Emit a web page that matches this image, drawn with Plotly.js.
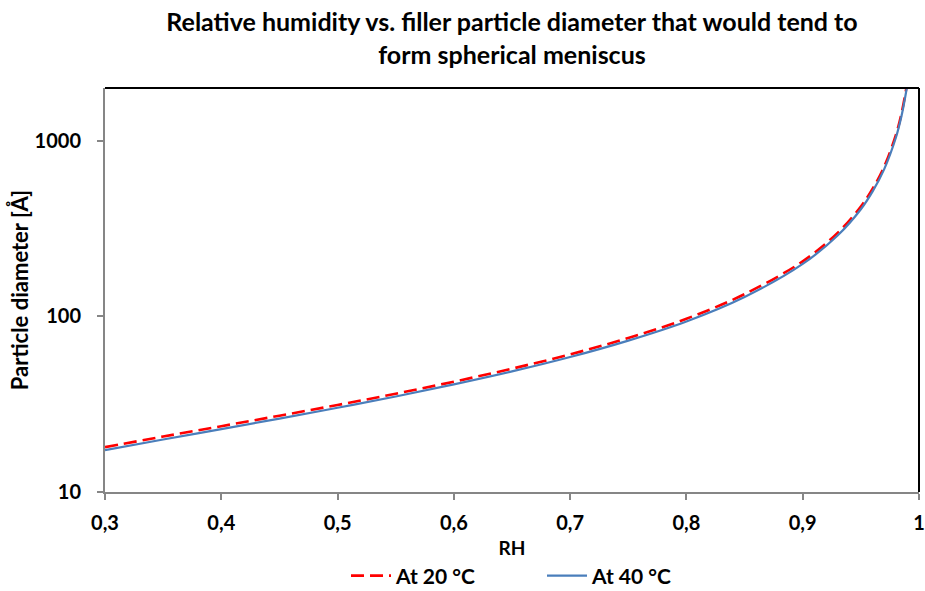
<!DOCTYPE html>
<html><head><meta charset="utf-8">
<script src="https://cdn.plot.ly/plotly-3.0.1.min.js"></script>
<style>html,body{margin:0;padding:0;background:#fff}#chart{width:925px;height:591px}</style>
</head><body><div id="chart"></div>
<script>
const rh = [0.30,0.35,0.40,0.45,0.50,0.55,0.60,0.65,0.70,0.75,0.80,0.85,0.90,0.93,0.95,0.96,0.97,0.98,0.985,0.99];
const d20 = [18.0,20.7,23.7,27.2,31.3,36.3,42.5,50.4,60.8,75.4,97,134,206,299,423,532,712,1074,1436,2160];
const d40 = [17.3,19.9,22.8,26.2,30.2,35.0,41.0,48.6,58.7,72.8,93.6,129,199,289,408,514,688,1038,1390,2090];
const xTicks = [0.3,0.4,0.5,0.6,0.7,0.8,0.9,1];
const xTickText = ['0,3','0,4','0,5','0,6','0,7','0,8','0,9','1'];
const yTicks = [10,100,1000];
const yTickText = ['10','100','1000'];
const seriesNames = ['At 20 °C','At 40 °C'];

const F = 'Lato, "Open Sans", sans-serif';
const b = s => '<b>' + s + '</b>';
const traces = [
  {x: rh, y: d20, name: b(seriesNames[0]), mode: 'lines', line: {color: '#ff0000', width: 2.6, dash: '13px,6px', shape: 'spline'}},
  {x: rh, y: d40, name: b(seriesNames[1]), mode: 'lines', line: {color: '#4a7ebb', width: 2.2, shape: 'spline'}}
];
const layout = {
  width: 925, height: 591,
  margin: {l: 105, r: 6, t: 88, b: 99, autoexpand: false},
  paper_bgcolor: '#fff', plot_bgcolor: '#fff',
  font: {family: F, color: '#000'},
  title: {text: b('Relative humidity vs. filler particle diameter that would tend to<br>form spherical meniscus'),
          font: {size: 25, family: F, color: '#000'}, xref: 'paper', x: 0.5, xanchor: 'center',
          yref: 'container', y: 1 - 31/591, yanchor: 'middle'},
  xaxis: {range: [0.3, 1], tickvals: xTicks, ticktext: xTickText.map(b), showgrid: false, zeroline: false, automargin: false,
          showline: true, linecolor: '#868686', linewidth: 2, ticks: 'outside', ticklen: 6, tickcolor: '#868686', tickwidth: 1.5,
          ticklabelstandoff: 6,
          tickfont: {size: 20, family: F}, title: {text: b('RH'), font: {size: 19, family: F}, standoff: 9}},
  yaxis: {type: 'log', range: [1, Math.log10(2000)], tickvals: yTicks, ticktext: yTickText.map(b), showgrid: false, zeroline: false, automargin: false,
          showline: true, linecolor: '#868686', linewidth: 2, ticks: 'outside', ticklen: 6, tickcolor: '#868686', tickwidth: 1.5,
          ticklabelstandoff: 12,
          tickfont: {size: 20, family: F}, title: {text: b('Particle diameter [Å]'), font: {size: 22, family: F}, standoff: 0}},
  showlegend: true,
  legend: {orientation: 'h', x: (346-105)/814, xanchor: 'left', y: -(576-492)/404, yanchor: 'middle', font: {size: 21, family: F},
           traceorder: 'normal', itemwidth: 40, entrywidth: 141},
  shapes: [
    {type: 'line', xref: 'paper', yref: 'paper', x0: 0, x1: 1, y0: 1, y1: 1, line: {color: '#000', width: 2}},
    {type: 'line', xref: 'paper', yref: 'paper', x0: 1, x1: 1, y0: 0, y1: 1, line: {color: '#000', width: 2}}
  ]
};
Plotly.newPlot('chart', traces, layout, {displayModeBar: false});
</script></body></html>
